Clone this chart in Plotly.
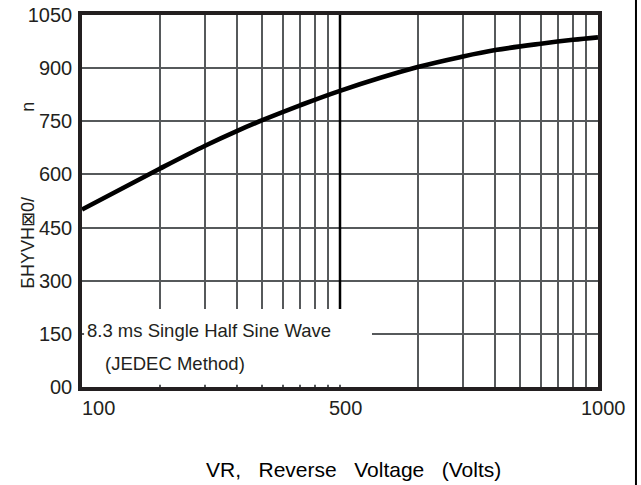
import math
import plotly.graph_objects as go

# Curve data (x in grid units on a 2-decade log axis, y values)
curve_x = [1.0, 2, 3, 4, 5, 7, 10, 20, 30, 40, 60, 80, 100]
curve_y = [501, 616, 681, 723, 753, 795, 836, 903, 933, 951, 969, 980, 987]

# Axis ticks / labels
x_grid = [1, 2, 3, 4, 5, 6, 7, 8, 9, 10, 20, 30, 40, 50, 60, 70, 80, 90, 100]
x_label_vals = [1, 10, 100]
x_label_text = ["100", "500", "1000"]
y_tick_vals = [0, 150, 300, 450, 600, 750, 900, 1050]
y_tick_text = ["00", "150", "300", "450", "600", "750", "900", "1050"]

highlight_x = 10
highlight_bottom = 220
note_lines = ["8.3 ms Single Half Sine Wave", "(JEDEC Method)"]
x_title = "VR,\u00a0\u00a0 Reverse\u00a0\u00a0 Voltage\u00a0\u00a0 (Volts)"

FONT = "Liberation Sans, Arial, sans-serif"
INK = "#231f20"
GRID = "#56595b"

fig = go.Figure()

fig.add_trace(go.Scatter(
    x=[highlight_x, highlight_x], y=[highlight_bottom, 1050],
    mode="lines", line=dict(color="black", width=2.5),
    hoverinfo="skip", showlegend=False))

fig.add_trace(go.Scatter(
    x=curve_x, y=curve_y, mode="lines",
    line=dict(color="black", width=4.6, shape="spline", smoothing=1.0),
    showlegend=False))

# white box masking the grid behind the note
fig.add_shape(type="rect", xref="paper", yref="y",
              x0=0.004, x1=0.562, y0=6, y1=highlight_bottom,
              fillcolor="white", line=dict(width=0), layer="above")

# right frame line
fig.add_shape(type="line", xref="paper", yref="paper",
              x0=1.0736, x1=1.0736, y0=-0.3, y1=1.05,
              line=dict(color="black", width=2))

fig.update_layout(
    width=641, height=485,
    margin=dict(l=82, r=43, t=15, b=98, autoexpand=False),
    paper_bgcolor="white", plot_bgcolor="white",
    font=dict(family=FONT, color=INK),
    showlegend=False,
)

fig.update_xaxes(
    type="log", range=[0, 2], automargin=False,
    tickvals=x_grid, showticklabels=False, ticks="",
    showgrid=True, gridcolor=GRID, gridwidth=2.3,
    showline=True, linecolor=INK, linewidth=3.5, mirror=True,
    zeroline=False,
)
fig.update_yaxes(
    range=[0, 1050], automargin=False,
    tickvals=y_tick_vals, ticktext=y_tick_text, ticks="",
    tickfont=dict(size=20, family=FONT, color=INK),
    ticklabelstandoff=2, ticklabeloverflow="allow",
    showgrid=True, gridcolor=GRID, gridwidth=2.3,
    showline=True, linecolor=INK, linewidth=3.5, mirror=True,
    zeroline=False,
)

# x tick labels
offsets = [16, 5, 5]
for v, t, dx in zip(x_label_vals, x_label_text, offsets):
    fig.add_annotation(x=math.log10(v), y=-0.056, xref="x", yref="paper",
                       text=t, showarrow=False, xshift=dx, yanchor="middle",
                       font=dict(size=20, family=FONT, color=INK))

fig.add_annotation(x=0.527, y=-0.223, xref="paper", yref="paper",
                   text=x_title, showarrow=False, yanchor="middle",
                   xanchor="center",
                   font=dict(size=21, family=FONT, color="black"))

fig.add_annotation(x=0.006, y=0.153, xref="paper", yref="paper",
                   text=note_lines[0], showarrow=False, xanchor="left",
                   yanchor="middle",
                   font=dict(size=18.5, family=FONT, color=INK))
fig.add_annotation(x=0.041, y=0.062, xref="paper", yref="paper",
                   text=note_lines[1], showarrow=False, xanchor="left",
                   yanchor="middle",
                   font=dict(size=18.5, family=FONT, color=INK))

# garbled y-axis title glyphs
fig.add_annotation(x=-0.105, y=0.753, xref="paper", yref="paper",
                   text="n", showarrow=False, textangle=-90,
                   xanchor="center", yanchor="middle",
                   font=dict(size=18, family=FONT, color=INK))
fig.add_annotation(x=-0.105, y=0.387, xref="paper", yref="paper",
                   text="БHYVH⊠0/", showarrow=False, textangle=-90,
                   xanchor="center", yanchor="middle",
                   font=dict(size=18, family=FONT, color=INK))

fig.write_html(
    "out.html",
    config={"displayModeBar": False},
    post_script="document.body.style.margin='0';"
                "document.body.style.overflow='hidden';",
)
